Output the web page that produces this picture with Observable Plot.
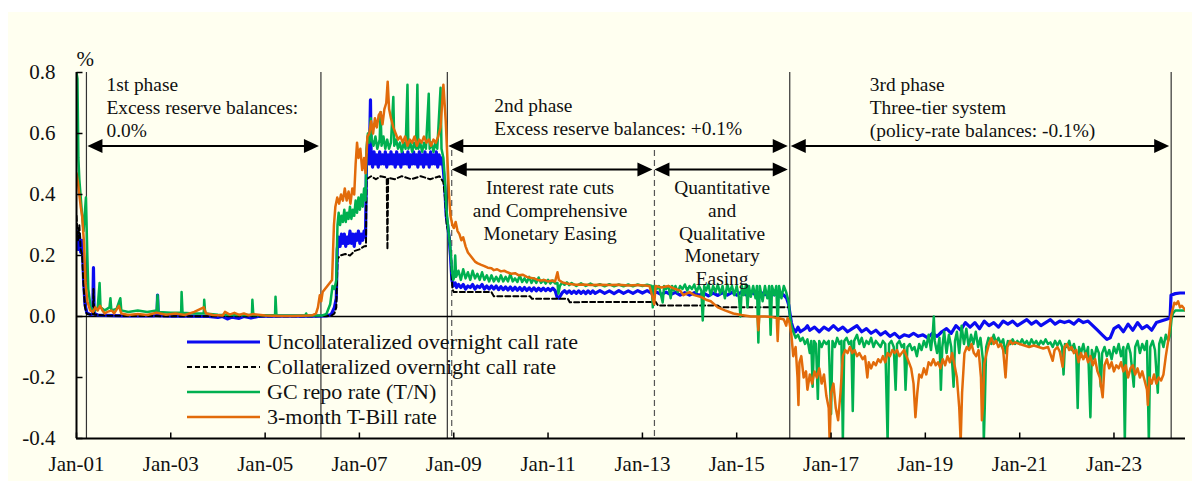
<!DOCTYPE html>
<html><head><meta charset="utf-8">
<script src="https://cdn.jsdelivr.net/npm/d3@7"></script>
<script src="https://cdn.jsdelivr.net/npm/@observablehq/plot@0.6"></script>
<style>
html,body{margin:0;padding:0;background:#fff;}
#wrap{position:relative;width:1192px;height:481px;overflow:hidden;}
#bg{position:absolute;left:8px;top:12px;right:0;bottom:0;background:#FFFFF0;}
#chart{position:absolute;left:0;top:0;}
#legend{position:absolute;left:187px;top:329.5px;font-family:"Liberation Serif",serif;font-size:22px;color:#111;}
.row{display:flex;align-items:center;height:25px;white-space:nowrap;}
.row svg{margin-right:7px;display:block;}
</style></head>
<body><div id="wrap"><div id="bg"></div><div id="chart"></div><div id="legend"></div></div>
<script>
// ---------- tick labels / domains ----------
const tickYears = [2001,2003,2005,2007,2009,2011,2013,2015,2017,2019,2021,2023];
const yTicks = [-0.4,-0.2,0,0.2,0.4,0.6,0.8];
const yDomain = [-0.4, 0.8];
const xDomain = ["2001-01-01","2024-07-08"];

// ---------- phase boundaries (dates) ----------
const phaseStart1 = "2001-03-19";
const phaseEnd1   = "2006-03-09";
const phaseStart2 = "2008-11-12";
const subStart2   = "2008-12-16";
const qqeStart    = "2013-04-04";
const phaseStart3 = "2016-02-16";
const phaseEnd3   = "2024-03-19";

const phaseLabels = [
  "1st phase\nExcess reserve balances:\n0.0%",
  "2nd phase\nExcess reserve balances: +0.1%",
  "3rd phase\nThree-tier system\n(policy-rate balances: -0.1%)"
];
const subLabels = [
  "Interest rate cuts\nand Comprehensive\nMonetary Easing",
  "Quantitative\nand\nQualitative\nMonetary\nEasing"
];

const seriesNames = ["Uncollateralized overnight call rate","Collateralized overnight call rate","GC repo rate (T/N)","3-month T-Bill rate"];

// ---------- series: [decimal year, % ] ----------
const uncollateralized = [[2001.00,0.28],[2001.03,0.22],[2001.06,0.27],[2001.09,0.21],[2001.12,0.25],[2001.15,0.12],[2001.18,0.04],[2001.22,0.012],[2001.3,0.006],[2001.345,0.008],[2001.36,0.16],[2001.375,0.01],[2001.45,0.005],[2001.6,0.004],[2001.8,0.003],[2002.0,0.002],[2002.3,0.002],[2002.6,0.002],[2002.71,0.003],[2002.72,0.07],[2002.735,0.003],[2003.0,0.001],[2003.4,0.001],[2003.8,0.0],[2004.0,-0.003],[2004.1,0.0],[2004.2,-0.008],[2004.3,-0.002],[2004.45,-0.006],[2004.55,0.0],[2004.7,-0.005],[2004.85,0.0],[2005.0,0.001],[2005.5,0.001],[2006.0,0.001],[2006.3,0.002],[2006.4,0.006],[2006.47,0.03],[2006.51,0.06],
[2006.53,0.22],[2006.56,0.26],[2006.59,0.23],[2006.62,0.27],[2006.65,0.24],[2006.68,0.27],[2006.71,0.23],[2006.74,0.26],[2006.77,0.24],[2006.8,0.28],[2006.83,0.24],[2006.86,0.27],[2006.89,0.23],[2006.92,0.27],[2006.95,0.25],[2006.98,0.28],[2007.01,0.24],[2007.04,0.27],[2007.07,0.25],[2007.1,0.28],[2007.13,0.26],[2007.15,0.5],
[2007.18,0.53],[2007.21,0.5],[2007.235,0.71],[2007.25,0.52],[2007.28,0.49],[2007.31,0.54],[2007.34,0.5],[2007.37,0.53],[2007.4,0.49],[2007.43,0.54],[2007.46,0.5],[2007.49,0.53],[2007.52,0.5],[2007.55,0.54],[2007.58,0.49],[2007.61,0.53],[2007.64,0.5],[2007.67,0.54],[2007.7,0.5],[2007.73,0.53],[2007.76,0.49],[2007.79,0.54],[2007.82,0.5],[2007.85,0.53],[2007.88,0.49],[2007.91,0.54],[2007.94,0.5],[2007.97,0.53],[2008.0,0.5],[2008.03,0.54],[2008.06,0.49],[2008.09,0.53],[2008.12,0.5],[2008.15,0.54],[2008.18,0.5],[2008.21,0.53],[2008.24,0.49],[2008.27,0.54],[2008.3,0.5],[2008.33,0.53],[2008.36,0.49],[2008.39,0.54],[2008.42,0.5],[2008.45,0.53],[2008.48,0.49],[2008.51,0.54],[2008.54,0.5],[2008.57,0.53],[2008.6,0.5],[2008.63,0.54],[2008.66,0.49],[2008.69,0.53],[2008.72,0.5],[2008.75,0.52],[2008.78,0.48],[2008.81,0.42],[2008.84,0.33],[2008.87,0.3],[2008.9,0.26],[2008.93,0.2],[2008.96,0.12],[2008.99,0.1],
[2009.03,0.11],[2009.06,0.095],[2009.1,0.105],[2009.15,0.095],[2009.2,0.105],[2009.25,0.09],[2009.3,0.1],[2009.35,0.095],[2009.4,0.105],[2009.45,0.09],[2009.5,0.1],[2009.55,0.095],[2009.6,0.105],[2009.65,0.09],[2009.7,0.1],[2009.75,0.09],[2009.8,0.1],[2009.85,0.09],[2009.9,0.1],[2009.95,0.088],[2010.0,0.098],[2010.05,0.088],[2010.1,0.097],[2010.15,0.087],[2010.2,0.097],[2010.25,0.086],[2010.3,0.096],[2010.35,0.086],[2010.4,0.095],[2010.45,0.085],[2010.5,0.095],[2010.55,0.085],[2010.6,0.094],[2010.65,0.084],[2010.7,0.094],[2010.75,0.084],[2010.8,0.093],[2010.85,0.085],[2010.9,0.093],[2010.95,0.085],[2011.0,0.092],[2011.05,0.085],[2011.1,0.093],[2011.15,0.085],[2011.19,0.065],[2011.23,0.06],[2011.27,0.07],[2011.3,0.078],[2011.35,0.085],[2011.4,0.077],[2011.45,0.084],[2011.5,0.076],[2011.55,0.083],[2011.6,0.076],[2011.65,0.084],[2011.7,0.076],[2011.75,0.083],[2011.8,0.075],[2011.85,0.084],[2011.9,0.076],[2011.95,0.084],[2012.0,0.076],[2012.1,0.085],[2012.2,0.076],[2012.3,0.084],[2012.4,0.075],[2012.5,0.085],[2012.6,0.076],[2012.7,0.084],[2012.8,0.076],[2012.9,0.085],[2013.0,0.077],[2013.1,0.085],[2013.2,0.076],[2013.3,0.08],[2013.4,0.072],[2013.5,0.08],[2013.6,0.072],[2013.7,0.079],[2013.8,0.07],[2013.9,0.078],[2014.0,0.07],[2014.1,0.078],[2014.2,0.069],[2014.3,0.077],[2014.4,0.068],[2014.5,0.077],[2014.6,0.069],[2014.7,0.078],[2014.8,0.07],[2014.9,0.079],[2015.0,0.07],[2015.1,0.08],[2015.2,0.071],[2015.3,0.08],[2015.4,0.072],[2015.5,0.08],[2015.6,0.072],[2015.7,0.08],[2015.8,0.071],[2015.9,0.079],[2016.0,0.07],[2016.06,0.06],[2016.1,0.04],[2016.13,0.01],[2016.16,-0.02],[2016.2,-0.04],
[2016.25,-0.05],[2016.3,-0.035],[2016.35,-0.05],[2016.45,-0.04],[2016.5,-0.03],[2016.55,-0.045],[2016.65,-0.035],[2016.75,-0.05],[2016.85,-0.035],[2016.95,-0.045],[2017.05,-0.03],[2017.15,-0.045],[2017.25,-0.035],[2017.35,-0.05],[2017.45,-0.04],[2017.55,-0.03],[2017.65,-0.05],[2017.75,-0.04],[2017.85,-0.055],[2017.95,-0.045],[2018.05,-0.06],[2018.15,-0.05],[2018.25,-0.065],[2018.35,-0.055],[2018.45,-0.07],[2018.55,-0.06],[2018.65,-0.065],[2018.75,-0.055],[2018.85,-0.065],[2018.95,-0.06],[2019.05,-0.07],[2019.15,-0.055],[2019.25,-0.065],[2019.35,-0.05],[2019.45,-0.04],[2019.55,-0.055],[2019.65,-0.03],[2019.75,-0.045],[2019.85,-0.02],[2019.95,-0.035],[2020.05,-0.02],[2020.15,-0.04],[2020.25,-0.015],[2020.35,-0.03],[2020.45,-0.02],[2020.55,-0.035],[2020.65,-0.015],[2020.75,-0.025],[2020.85,-0.015],[2020.95,-0.03],[2021.05,-0.02],[2021.15,-0.01],[2021.25,-0.025],[2021.35,-0.015],[2021.45,-0.03],[2021.55,-0.02],[2021.65,-0.01],[2021.75,-0.025],[2021.85,-0.015],[2021.95,-0.02],[2022.05,-0.015],[2022.15,-0.025],[2022.25,-0.01],[2022.35,-0.02],[2022.45,-0.015],[2022.55,-0.03],[2022.65,-0.045],[2022.75,-0.06],[2022.85,-0.075],[2022.92,-0.07],[2023.0,-0.04],[2023.1,-0.03],[2023.2,-0.05],[2023.3,-0.025],[2023.4,-0.045],[2023.5,-0.02],[2023.6,-0.04],[2023.7,-0.03],[2023.8,-0.045],[2023.9,-0.02],[2024.0,-0.015],[2024.1,-0.01],[2024.19,-0.005],[2024.21,0.07],[2024.3,0.075],[2024.4,0.077],[2024.52,0.077]];

const collateralized = [[2001.0,0.33],[2001.03,0.25],[2001.06,0.3],[2001.09,0.22],[2001.12,0.2],[2001.15,0.1],[2001.18,0.03],[2001.22,0.008],[2001.35,0.006],[2001.36,0.09],[2001.375,0.006],[2001.6,0.003],[2002.0,0.002],[2003.0,0.001],[2004.0,0.001],[2005.0,0.001],[2006.0,0.001],[2006.4,0.002],[2006.47,0.01],[2006.51,0.03],[2006.535,0.19],[2006.6,0.2],[2006.7,0.205],[2006.8,0.2],[2006.9,0.215],[2007.0,0.22],[2007.1,0.23],[2007.14,0.23],[2007.15,0.45],[2007.25,0.46],[2007.35,0.45],[2007.45,0.46],[2007.58,0.455],[2007.595,0.22],[2007.61,0.455],[2007.75,0.45],[2007.9,0.46],[2008.1,0.45],[2008.3,0.46],[2008.5,0.45],[2008.7,0.46],[2008.78,0.44],[2008.82,0.38],[2008.85,0.3],[2008.9,0.27],[2008.94,0.2],[2008.97,0.09],[2009.0,0.08],[2009.8,0.08],[2009.85,0.066],[2010.62,0.066],[2010.66,0.058],[2011.42,0.058],[2011.46,0.047],[2013.28,0.048],[2013.33,0.036],[2014.6,0.036],[2014.65,0.03],[2016.1,0.03]];

const gcRepo = [[2001.0,0.8],[2001.02,0.78],[2001.04,0.52],[2001.06,0.45],[2001.085,0.4],[2001.12,0.33],[2001.15,0.28],[2001.2,0.39],[2001.23,0.2],[2001.25,0.09],[2001.3,0.03],[2001.35,0.02],[2001.4,0.02],[2001.45,0.03],[2001.49,0.11],[2001.51,0.03],[2001.6,0.02],[2001.7,0.03],[2001.72,0.06],[2001.74,0.02],[2001.85,0.025],[2001.93,0.06],[2001.95,0.02],[2002.1,0.015],[2002.3,0.02],[2002.5,0.015],[2002.7,0.02],[2002.72,0.07],[2002.74,0.015],[2003.0,0.012],[2003.22,0.012],[2003.23,0.08],[2003.25,0.012],[2003.5,0.01],[2003.7,0.01],[2003.71,0.055],[2003.73,0.01],[2004.0,0.006],[2004.4,0.005],[2004.72,0.005],[2004.73,0.055],[2004.75,0.005],[2005.0,0.004],[2005.21,0.004],[2005.22,0.065],[2005.24,0.004],[2005.5,0.003],[2005.85,0.003],[2005.87,0.01],[2005.89,0.003],[2006.2,0.003],[2006.3,0.008],[2006.38,0.04],[2006.43,0.1],[2006.47,0.09],[2006.51,0.12],[2006.535,0.3],[2006.56,0.34],[2006.59,0.3],[2006.62,0.33],[2006.65,0.31],[2006.68,0.35],[2006.71,0.31],[2006.74,0.34],[2006.77,0.32],[2006.8,0.36],[2006.83,0.32],[2006.86,0.35],[2006.89,0.33],[2006.92,0.38],[2006.95,0.34],[2006.98,0.39],[2007.01,0.35],[2007.04,0.4],[2007.07,0.36],[2007.1,0.42],[2007.13,0.38],[2007.15,0.55],[2007.18,0.6],[2007.21,0.57],[2007.24,0.65],[2007.26,0.58],[2007.3,0.56],[2007.34,0.59],[2007.38,0.55],[2007.43,0.58],[2007.45,0.67],[2007.47,0.56],[2007.51,0.59],[2007.55,0.55],[2007.59,0.58],[2007.63,0.55],[2007.67,0.57],[2007.72,0.72],[2007.74,0.56],[2007.78,0.58],[2007.82,0.55],[2007.86,0.57],[2007.9,0.54],[2007.94,0.57],[2007.98,0.55],[2008.02,0.76],[2008.04,0.55],[2008.08,0.57],[2008.12,0.54],[2008.16,0.57],[2008.2,0.55],[2008.23,0.76],[2008.25,0.55],[2008.29,0.57],[2008.33,0.54],[2008.37,0.57],[2008.41,0.55],[2008.47,0.73],[2008.49,0.55],[2008.53,0.57],[2008.57,0.54],[2008.61,0.57],[2008.65,0.55],[2008.72,0.75],[2008.74,0.55],[2008.78,0.52],[2008.81,0.45],[2008.84,0.36],[2008.87,0.31],[2008.9,0.26],[2008.93,0.22],[2008.96,0.15],[2008.99,0.12],
[2009.01,0.13],[2009.03,0.2],[2009.05,0.13],[2009.1,0.15],[2009.15,0.12],[2009.2,0.155],[2009.25,0.125],[2009.3,0.145],[2009.35,0.12],[2009.4,0.15],[2009.45,0.125],[2009.5,0.14],[2009.55,0.12],[2009.6,0.145],[2009.65,0.12],[2009.7,0.135],[2009.75,0.115],[2009.8,0.135],[2009.85,0.115],[2009.9,0.13],[2009.95,0.115],[2010.0,0.135],[2010.05,0.115],[2010.1,0.13],[2010.15,0.115],[2010.2,0.14],[2010.25,0.115],[2010.3,0.125],[2010.35,0.113],[2010.4,0.135],[2010.45,0.113],[2010.5,0.125],[2010.55,0.112],[2010.6,0.13],[2010.65,0.11],[2010.7,0.125],[2010.75,0.11],[2010.8,0.128],[2010.85,0.11],[2010.9,0.12],[2010.95,0.108],[2011.0,0.12],[2011.05,0.108],[2011.1,0.118],[2011.15,0.108],[2011.2,0.11],[2011.22,0.075],[2011.25,0.1],[2011.3,0.112],[2011.35,0.104],[2011.4,0.112],[2011.45,0.103],[2011.5,0.11],[2011.6,0.1],[2011.7,0.109],[2011.8,0.1],[2011.9,0.108],[2012.0,0.1],[2012.1,0.106],[2012.2,0.099],[2012.3,0.106],[2012.4,0.099],[2012.5,0.105],[2012.6,0.099],[2012.7,0.105],[2012.8,0.099],[2012.9,0.105],[2013.0,0.1],[2013.1,0.104],[2013.2,0.1],[2013.22,0.03],[2013.25,0.1],[2013.3,0.09],[2013.35,0.1],[2013.43,0.046],[2013.46,0.1],
[2013.5,0.09],[2013.55,0.1],[2013.6,0.06],[2013.63,0.1],[2013.67,0.085],[2013.7,0.1],[2013.75,0.08],[2013.8,0.1],[2013.85,0.09],[2013.9,0.105],[2013.95,0.085],[2014.0,0.1],[2014.05,0.09],[2014.1,0.105],[2014.15,0.08],[2014.2,0.1],[2014.25,0.085],[2014.28,-0.013],[2014.31,0.1],[2014.35,0.085],[2014.4,0.105],[2014.45,0.07],[2014.5,0.1],[2014.55,0.08],[2014.6,0.105],[2014.65,0.075],[2014.7,0.1],[2014.75,0.06],[2014.8,0.105],[2014.85,0.08],[2014.9,0.1],[2014.95,0.07],[2015.0,0.1],[2015.05,0.06],[2015.08,0.0],[2015.11,0.1],[2015.15,0.07],[2015.2,0.105],[2015.23,0.03],[2015.26,0.1],[2015.3,0.065],[2015.35,0.1],[2015.4,0.06],[2015.43,0.1],[2015.46,-0.085],[2015.49,0.1],[2015.55,0.05],[2015.6,0.1],[2015.65,0.06],[2015.69,0.1],[2015.72,-0.06],[2015.75,0.1],[2015.8,0.07],[2015.84,0.1],[2015.87,-0.03],[2015.9,0.1],[2015.95,0.06],[2016.0,0.1],[2016.05,0.08],[2016.1,0.05],[2016.13,0.0],[2016.16,-0.03],[2016.2,-0.05],
[2016.25,-0.07],[2016.3,-0.06],[2016.35,-0.08],[2016.4,-0.07],[2016.45,-0.09],[2016.5,-0.075],[2016.55,-0.12],[2016.58,-0.08],[2016.61,-0.23],[2016.64,-0.08],[2016.68,-0.09],[2016.72,-0.27],[2016.75,-0.08],[2016.8,-0.1],[2016.85,-0.08],[2016.9,-0.09],[2016.95,-0.08],[2017.0,-0.32],[2017.03,-0.08],[2017.08,-0.1],[2017.13,-0.07],[2017.18,-0.09],[2017.22,-0.08],[2017.25,-0.41],[2017.28,-0.08],[2017.33,-0.07],[2017.38,-0.09],[2017.43,-0.08],[2017.46,-0.31],[2017.49,-0.08],[2017.55,-0.06],[2017.6,-0.09],[2017.65,-0.07],[2017.7,-0.1],[2017.75,-0.08],[2017.8,-0.09],[2017.85,-0.07],[2017.9,-0.1],[2017.95,-0.08],[2018.0,-0.09],[2018.05,-0.1],[2018.1,-0.08],[2018.15,-0.09],[2018.2,-0.41],[2018.23,-0.09],[2018.28,-0.08],[2018.33,-0.1],[2018.37,-0.24],[2018.4,-0.09],[2018.45,-0.08],[2018.5,-0.1],[2018.55,-0.09],[2018.58,-0.24],[2018.62,-0.1],[2018.67,-0.09],[2018.72,-0.11],[2018.77,-0.1],[2018.82,-0.13],[2018.87,-0.09],[2018.92,-0.11],[2018.97,-0.08],[2019.02,-0.1],[2019.07,-0.06],[2019.12,-0.11],[2019.16,-0.05],[2019.18,0.0],[2019.2,-0.08],[2019.25,-0.12],[2019.3,-0.07],[2019.33,-0.24],[2019.36,-0.1],[2019.4,-0.05],[2019.45,-0.12],[2019.5,-0.06],[2019.55,-0.1],[2019.6,-0.23],[2019.63,-0.08],[2019.67,-0.05],[2019.72,-0.12],[2019.77,-0.03],[2019.82,-0.09],[2019.87,-0.04],[2019.92,-0.1],[2019.97,-0.06],[2020.02,-0.09],[2020.07,-0.05],[2020.12,-0.1],[2020.17,-0.07],[2020.22,-0.14],[2020.24,-0.41],[2020.26,-0.3],[2020.29,-0.1],[2020.34,-0.07],[2020.4,-0.09],[2020.45,-0.06],[2020.5,-0.085],[2020.55,-0.07],[2020.6,-0.09],[2020.65,-0.075],[2020.7,-0.12],[2020.75,-0.08],[2020.8,-0.09],[2020.85,-0.075],[2020.9,-0.09],[2020.95,-0.08],[2021.0,-0.09],[2021.05,-0.075],[2021.1,-0.09],[2021.15,-0.08],[2021.2,-0.095],[2021.25,-0.075],[2021.3,-0.09],[2021.35,-0.08],[2021.4,-0.095],[2021.45,-0.08],[2021.5,-0.09],[2021.55,-0.075],[2021.6,-0.09],[2021.65,-0.085],[2021.7,-0.1],[2021.75,-0.08],[2021.8,-0.095],[2021.85,-0.08],[2021.9,-0.1],[2021.93,-0.19],[2021.96,-0.09],[2022.0,-0.1],[2022.05,-0.08],[2022.1,-0.11],[2022.15,-0.09],[2022.2,-0.12],[2022.23,-0.3],[2022.26,-0.1],[2022.3,-0.12],[2022.35,-0.09],[2022.4,-0.13],[2022.45,-0.1],[2022.5,-0.33],[2022.53,-0.11],[2022.58,-0.14],[2022.63,-0.1],[2022.68,-0.12],[2022.72,-0.23],[2022.75,-0.12],[2022.8,-0.1],[2022.85,-0.13],[2022.9,-0.11],[2022.95,-0.14],[2023.0,-0.1],[2023.05,-0.12],[2023.1,-0.09],[2023.15,-0.13],[2023.2,-0.1],[2023.23,-0.41],[2023.26,-0.11],[2023.3,-0.09],[2023.35,-0.12],[2023.42,-0.23],[2023.45,-0.1],[2023.5,-0.08],[2023.55,-0.12],[2023.6,-0.09],[2023.65,-0.11],[2023.7,-0.08],[2023.74,-0.41],[2023.77,-0.1],[2023.82,-0.08],[2023.87,-0.11],[2023.93,-0.25],[2023.96,-0.09],[2024.0,-0.07],[2024.05,-0.1],[2024.1,-0.06],[2024.15,-0.08],[2024.19,-0.06],[2024.22,-0.01],[2024.25,0.01],[2024.3,0.02],[2024.4,0.02],[2024.52,0.02]];

const tBill3m = [[2001.0,0.47],[2001.03,0.44],[2001.06,0.4],[2001.09,0.36],[2001.12,0.33],[2001.16,0.24],[2001.19,0.11],[2001.23,0.05],[2001.29,0.02],[2001.35,0.015],[2001.4,0.03],[2001.45,0.02],[2001.5,0.035],[2001.55,0.02],[2001.6,0.01],[2001.65,0.015],[2001.75,0.02],[2001.8,0.01],[2001.9,0.035],[2001.95,0.01],[2002.1,0.005],[2002.3,0.008],[2002.5,0.005],[2002.7,0.012],[2002.9,0.006],[2003.1,0.01],[2003.3,0.005],[2003.5,0.015],[2003.7,0.03],[2003.75,0.01],[2003.9,0.005],[2004.1,0.003],[2004.15,0.015],[2004.25,0.006],[2004.35,0.012],[2004.45,0.005],[2004.55,0.01],[2004.65,0.004],[2004.75,0.008],[2005.0,0.003],[2005.3,0.002],[2005.6,0.002],[2005.9,0.003],
[2006.0,0.004],[2006.08,0.01],[2006.12,0.03],[2006.16,0.07],[2006.19,0.05],[2006.22,0.08],[2006.27,0.09],[2006.32,0.1],[2006.37,0.11],[2006.42,0.12],[2006.46,0.3],[2006.49,0.36],[2006.53,0.39],[2006.57,0.37],[2006.61,0.4],[2006.65,0.38],[2006.69,0.42],[2006.73,0.38],[2006.77,0.41],[2006.81,0.37],[2006.85,0.42],[2006.89,0.4],[2006.92,0.5],[2006.95,0.57],[2006.98,0.52],[2007.02,0.55],[2007.06,0.48],[2007.1,0.52],[2007.13,0.47],[2007.17,0.59],[2007.21,0.6],[2007.25,0.64],[2007.29,0.6],[2007.33,0.65],[2007.37,0.62],[2007.41,0.66],[2007.45,0.67],[2007.49,0.63],[2007.53,0.68],[2007.57,0.7],[2007.6,0.77],[2007.63,0.68],[2007.67,0.65],[2007.72,0.62],[2007.77,0.6],[2007.82,0.58],[2007.87,0.59],[2007.92,0.57],[2007.97,0.59],[2008.02,0.56],[2008.07,0.58],[2008.12,0.57],[2008.17,0.59],[2008.22,0.56],[2008.27,0.58],[2008.32,0.57],[2008.37,0.59],[2008.42,0.57],[2008.47,0.58],[2008.52,0.56],[2008.57,0.58],[2008.62,0.57],[2008.67,0.59],[2008.72,0.62],[2008.78,0.76],[2008.83,0.64],[2008.87,0.5],[2008.9,0.4],[2008.93,0.33],[2008.97,0.3],[2009.0,0.29],[2009.04,0.31],[2009.08,0.28],[2009.12,0.27],[2009.16,0.25],[2009.2,0.26],[2009.25,0.23],[2009.3,0.21],[2009.35,0.2],[2009.4,0.19],[2009.45,0.18],[2009.5,0.175],[2009.57,0.17],[2009.65,0.165],[2009.72,0.16],[2009.8,0.158],[2009.85,0.152],[2009.92,0.155],[2010.0,0.148],[2010.07,0.15],[2010.14,0.145],[2010.22,0.14],[2010.3,0.142],[2010.38,0.135],[2010.46,0.137],[2010.55,0.13],[2010.62,0.127],[2010.7,0.125],[2010.78,0.12],[2010.85,0.118],[2010.92,0.12],[2011.0,0.115],[2011.08,0.118],[2011.15,0.115],[2011.2,0.145],[2011.23,0.12],[2011.3,0.112],[2011.4,0.108],[2011.5,0.106],[2011.6,0.104],[2011.75,0.105],[2011.9,0.103],[2012.1,0.104],[2012.3,0.103],[2012.5,0.104],[2012.7,0.102],[2012.9,0.103],[2013.05,0.102],[2013.15,0.1],[2013.22,0.06],[2013.25,0.04],[2013.28,0.1],
[2013.4,0.095],[2013.55,0.1],[2013.7,0.09],[2013.8,0.085],[2013.87,0.07],[2014.0,0.08],[2014.1,0.07],[2014.23,0.065],[2014.35,0.055],[2014.45,0.05],[2014.6,0.03],[2014.75,0.02],[2014.93,0.01],[2015.1,0.005],[2015.3,0.0],[2015.44,0.0],[2015.46,-0.045],[2015.48,0.0],[2015.6,0.0],[2015.75,-0.002],[2015.85,-0.005],[2015.87,-0.08],[2015.89,-0.005],[2016.0,-0.01],[2016.05,-0.03],[2016.08,-0.005],[2016.12,-0.02],[2016.16,-0.06],[2016.2,-0.13],[2016.25,-0.1],[2016.29,-0.2],[2016.31,-0.29],[2016.33,-0.15],[2016.37,-0.13],[2016.42,-0.2],[2016.47,-0.18],[2016.5,-0.24],[2016.55,-0.19],[2016.6,-0.22],[2016.65,-0.18],[2016.7,-0.2],[2016.75,-0.17],[2016.8,-0.22],[2016.85,-0.19],[2016.9,-0.26],[2016.95,-0.3],[2016.97,-0.41],[2017.0,-0.25],[2017.05,-0.22],[2017.1,-0.3],[2017.15,-0.34],[2017.2,-0.25],[2017.25,-0.13],[2017.3,-0.11],[2017.35,-0.12],[2017.4,-0.1],[2017.45,-0.12],[2017.5,-0.11],[2017.55,-0.13],[2017.6,-0.12],[2017.67,-0.14],[2017.72,-0.13],[2017.77,-0.2],[2017.8,-0.15],[2017.85,-0.17],[2017.9,-0.15],[2017.95,-0.16],[2018.0,-0.14],[2018.05,-0.15],[2018.1,-0.13],[2018.15,-0.15],[2018.2,-0.12],[2018.25,-0.13],[2018.3,-0.11],[2018.35,-0.12],[2018.4,-0.11],[2018.45,-0.13],[2018.5,-0.12],[2018.55,-0.11],[2018.6,-0.13],[2018.65,-0.15],[2018.7,-0.17],[2018.75,-0.22],[2018.79,-0.33],[2018.83,-0.25],[2018.87,-0.19],[2018.92,-0.2],[2018.97,-0.17],[2019.02,-0.19],[2019.07,-0.15],[2019.12,-0.16],[2019.17,-0.14],[2019.22,-0.16],[2019.27,-0.15],[2019.32,-0.17],[2019.37,-0.14],[2019.42,-0.16],[2019.47,-0.13],[2019.52,-0.15],[2019.57,-0.12],[2019.62,-0.16],[2019.67,-0.2],[2019.72,-0.3],[2019.75,-0.41],[2019.78,-0.25],[2019.83,-0.12],[2019.88,-0.1],[2019.93,-0.11],[2019.98,-0.09],[2020.03,-0.12],[2020.08,-0.13],[2020.13,-0.11],[2020.18,-0.2],[2020.2,-0.34],[2020.22,-0.3],[2020.25,-0.155],[2020.3,-0.12],[2020.35,-0.09],[2020.4,-0.07],[2020.45,-0.09],[2020.5,-0.08],[2020.55,-0.1],[2020.6,-0.09],[2020.65,-0.11],[2020.7,-0.2],[2020.74,-0.1],[2020.8,-0.08],[2020.85,-0.09],[2020.9,-0.085],[2021.0,-0.09],[2021.1,-0.095],[2021.2,-0.1],[2021.3,-0.095],[2021.4,-0.1],[2021.5,-0.105],[2021.6,-0.1],[2021.7,-0.145],[2021.74,-0.11],[2021.8,-0.1],[2021.85,-0.115],[2021.91,-0.165],[2021.95,-0.1],[2022.0,-0.09],[2022.05,-0.11],[2022.1,-0.1],[2022.15,-0.12],[2022.2,-0.11],[2022.25,-0.15],[2022.3,-0.12],[2022.35,-0.14],[2022.4,-0.12],[2022.45,-0.15],[2022.5,-0.13],[2022.55,-0.16],[2022.6,-0.14],[2022.65,-0.18],[2022.7,-0.2],[2022.76,-0.265],[2022.8,-0.16],[2022.85,-0.14],[2022.9,-0.17],[2022.95,-0.15],[2023.0,-0.18],[2023.05,-0.16],[2023.1,-0.17],[2023.15,-0.15],[2023.2,-0.18],[2023.25,-0.16],[2023.3,-0.2],[2023.35,-0.17],[2023.4,-0.16],[2023.45,-0.19],[2023.5,-0.17],[2023.55,-0.2],[2023.6,-0.18],[2023.65,-0.21],[2023.7,-0.24],[2023.72,-0.29],[2023.75,-0.2],[2023.8,-0.22],[2023.85,-0.19],[2023.9,-0.22],[2023.95,-0.2],[2024.0,-0.21],[2024.05,-0.19],[2024.1,-0.13],[2024.16,-0.07],[2024.21,0.0],[2024.24,0.02],[2024.28,0.045],[2024.32,0.04],[2024.36,0.05],[2024.4,0.03],[2024.44,0.035],[2024.52,0.02]];

// ---------- helpers ----------
const toDate = t => { const y = Math.floor(t); const s = Date.UTC(y,0,1), e = Date.UTC(y+1,0,1); return new Date(s + (t - y) * (e - s)); };
const D = s => new Date(s + "T00:00:00Z");
const mid = (a, b) => new Date((D(a).getTime() + D(b).getTime()) / 2);
const yTop = yDomain[1], yBottom = yDomain[0];

const colors = {blue:"#0B0BF0", black:"#000000", green:"#00B050", orange:"#E26B0A"};
const styles = [
  {data: uncollateralized, stroke: colors.blue, width: 3.2, dash: null},
  {data: collateralized, stroke: colors.black, width: 2, dash: "5,3"},
  {data: gcRepo, stroke: colors.green, width: 2.5, dash: null},
  {data: tBill3m, stroke: colors.orange, width: 2.5, dash: null}
];

// custom symbols (arrowheads, inward ticks)
const headRight = {draw(c){ c.moveTo(0,0); c.lineTo(-15,-7); c.lineTo(-15,7); c.closePath(); }};
const headLeft  = {draw(c){ c.moveTo(0,0); c.lineTo(15,-7); c.lineTo(15,7); c.closePath(); }};
const tickUp    = {draw(c){ c.moveTo(0,0); c.lineTo(0,-6); }};
const tickRight = {draw(c){ c.moveTo(0,0); c.lineTo(6,0); }};

const tickDates = tickYears.map(y => new Date(Date.UTC(y,0,1)));
const solidLines = [phaseStart1, phaseEnd1, phaseStart2, phaseStart3, phaseEnd3].map(D);
const dashedLines = [subStart2, qqeStart].map(D);
const mainArrows = [[phaseStart1, phaseEnd1],[phaseStart2, phaseStart3],[phaseStart3, phaseEnd3]].map(p => p.map(D));
const subArrows = [[subStart2, qqeStart],[qqeStart, phaseStart3]].map(p => p.map(D));

const fs = 19.4, lh = 1.18;
const plot = Plot.plot({
  width: 1192, height: 481,
  marginLeft: 76, marginRight: 7, marginTop: 72, marginBottom: 43,
  style: {fontFamily: "'Liberation Serif', 'Times New Roman', serif", background: "transparent", color: "#111", overflow: "visible"},
  x: {type: "utc", domain: xDomain.map(D)},
  y: {domain: yDomain},
  marks: [
    Plot.ruleX(solidLines, {x: d => d, stroke: "#333", strokeWidth: 1.2}),
    Plot.ruleX(dashedLines, {x: d => d, stroke: "#555", strokeWidth: 1.2, strokeDasharray: "6,4", insetTop: 78}),
    Plot.ruleY([0], {stroke: "#000", strokeWidth: 1.6}),
    ...styles.map(s => Plot.line(s.data, {x: d => toDate(d[0]), y: d => d[1], stroke: s.stroke, strokeWidth: s.width, strokeDasharray: s.dash, clip: true})),
    Plot.ruleX([D(xDomain[0])], {stroke: "#000", strokeWidth: 2}),
    Plot.ruleY([yBottom], {stroke: "#000", strokeWidth: 2}),
    Plot.dot(tickDates, {x: d => d, y: () => yBottom, symbol: tickUp, stroke: "#000", fill: "none", strokeWidth: 1.5}),
    Plot.dot(yTicks, {x: () => D(xDomain[0]), y: d => d, symbol: tickRight, stroke: "#000", fill: "none", strokeWidth: 1.5}),
    Plot.axisX(tickDates, {tickSize: 0, tickPadding: 18, fontSize: 21, label: null,
      tickFormat: d => "Jan-" + String(d.getUTCFullYear() % 100).padStart(2, "0")}),
    Plot.axisY(yTicks, {tickSize: 0, tickPadding: 21, fontSize: 21, label: null, tickFormat: d => d.toFixed(1)}),
    Plot.text(["%"], {frameAnchor: "top-left", textAnchor: "start", lineAnchor: "bottom", dy: -7, fontSize: 21}),
    // arrows
    Plot.ruleY(mainArrows, {x1: d => d[0], x2: d => d[1], y: () => yTop, dy: 73.5, insetLeft: 6, insetRight: 6, stroke: "#000", strokeWidth: 2}),
    Plot.ruleY(subArrows, {x1: d => d[0], x2: d => d[1], y: () => yTop, dy: 97, insetLeft: 6, insetRight: 6, stroke: "#000", strokeWidth: 2}),
    Plot.dot(mainArrows, {x: d => d[0], y: () => yTop, dy: 73.5, dx: 1, symbol: headLeft, fill: "#000", stroke: "none"}),
    Plot.dot(mainArrows, {x: d => d[1], y: () => yTop, dy: 73.5, dx: -2, symbol: headRight, fill: "#000", stroke: "none"}),
    Plot.dot(subArrows, {x: d => d[0], y: () => yTop, dy: 97, dx: 0, symbol: headLeft, fill: "#000", stroke: "none"}),
    Plot.dot(subArrows, {x: d => d[1], y: () => yTop, dy: 97, dx: -2, symbol: headRight, fill: "#000", stroke: "none"}),
    // phase labels
    Plot.text([{x: D(phaseStart1), t: phaseLabels[0]}], {x: "x", text: "t", frameAnchor: "top", dx: 20, dy: 2, textAnchor: "start", lineAnchor: "top", lineHeight: lh, fontSize: fs}),
    Plot.text([{x: D(phaseStart2), t: phaseLabels[1]}], {x: "x", text: "t", frameAnchor: "top", dx: 47, dy: 23, textAnchor: "start", lineAnchor: "top", lineHeight: lh, fontSize: fs}),
    Plot.text([{x: D(phaseStart3), t: phaseLabels[2]}], {x: "x", text: "t", frameAnchor: "top", dx: 80, dy: 2, textAnchor: "start", lineAnchor: "top", lineHeight: lh, fontSize: fs}),
    Plot.text([{x: mid(subStart2, qqeStart), t: subLabels[0]}], {x: "x", text: "t", frameAnchor: "top", dx: -3, dy: 105, textAnchor: "middle", lineAnchor: "top", lineHeight: lh, fontSize: fs}),
    Plot.text([{x: mid(qqeStart, phaseStart3), t: subLabels[1]}], {x: "x", text: "t", frameAnchor: "top", dx: 0, dy: 105, textAnchor: "middle", lineAnchor: "top", lineHeight: lh, fontSize: fs})
  ]
});
document.getElementById("chart").appendChild(plot);

// legend
const leg = d3.select("#legend");
seriesNames.forEach((name, i) => {
  const s = styles[i];
  const row = leg.append("div").attr("class", "row");
  const svg = row.append("svg").attr("width", 73).attr("height", 6);
  svg.append("line").attr("x1", 0).attr("x2", 73).attr("y1", 3).attr("y2", 3)
    .attr("stroke", s.stroke).attr("stroke-width", s.width).attr("stroke-dasharray", s.dash);
  row.append("span").text(name);
});
</script>
</body></html>
